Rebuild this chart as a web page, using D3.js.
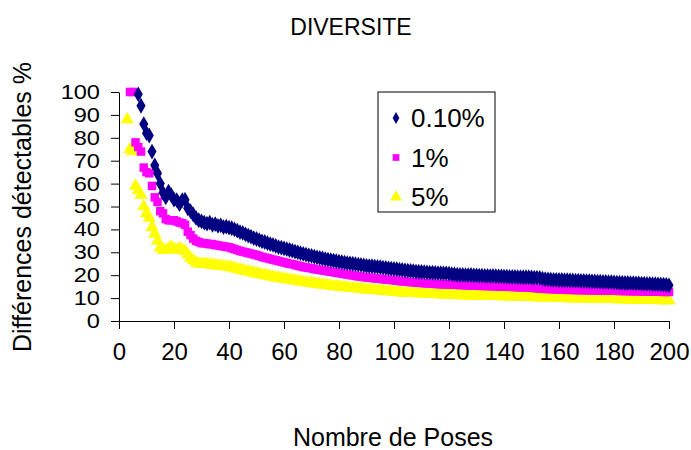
<!DOCTYPE html>
<html lang="fr">
<head>
<meta charset="UTF-8">
<title>DIVERSITE</title>
<script src="https://cdn.jsdelivr.net/npm/d3@7"></script>
<style>
    body { margin: 0; background: #fff; }
    text { font-family: "Liberation Sans", Arial, sans-serif; fill: #000; }
    .axis path, .axis line { stroke: #000; stroke-width: 1px; }
</style>
</head>
<body>
<svg width="691" height="450"></svg>
<script>
    // nombre de poses : 1..200 (index i -> x = i + 1), null = hors echelle (> 100)
    var serie010 = [
        null, null, null, null, null, null,
        99, 94, 86, 82, 81, 74, 68, 64.5, 60, 56,
        54, 56.5, 55, 53, 52.8, 51, 52.8, 53, 49.2, 48, 46.5, 45, 44, 43.5,
        43, 42.5, 43, 42, 42.3, 41.5, 41.8, 41, 41.2, 40.8,
        40.5, 40, 39.5, 38.8, 38.5, 37.8, 37.3, 36.8, 36.2, 35.8,
        35.3, 34.8, 34.5, 34, 33.6, 33.2, 32.8, 32.3, 32, 31.7,
        31.4, 31, 30.7, 30.3, 30, 29.6, 29.3, 29, 28.7, 28.4,
        28.1, 27.8, 27.6, 27.3, 27, 26.8, 26.6, 26.4, 26.1, 25.9,
        25.7, 25.5, 25.3, 25.2, 25, 24.8, 24.6, 24.5, 24.3, 24.1,
        24, 23.9, 23.7, 23.6, 23.5, 23.3, 23.2, 23, 22.9, 22.7,
        22.6, 22.4, 22.3, 22.1, 22, 21.9, 21.8, 21.6, 21.5, 21.4,
        21.3, 21.2, 21.1, 21.1, 21, 20.9, 20.9, 20.8, 20.8, 20.7,
        20.5, 20.3, 20.2, 20.1, 20.1, 20, 20, 20.1, 19.9, 19.9,
        19.8, 19.8, 19.7, 19.7, 19.6, 19.7, 19.6, 19.5, 19.5, 19.4,
        19.4, 19.3, 19.3, 19.3, 19.2, 19.2, 19.1, 19.1, 19.1, 19,
        18.9, 18.9, 18.8, 18.5, 18.3, 18.2, 18.1, 18, 18, 17.9,
        17.9, 17.8, 17.8, 17.7, 17.7, 17.6, 17.6, 17.5, 17.5, 17.4,
        17.4, 17.3, 17.3, 17.2, 17.2, 17.1, 17.1, 17, 17, 16.9,
        16.8, 16.7, 16.7, 16.6, 16.6, 16.5, 16.5, 16.4, 16.4, 16.3,
        16.3, 16.2, 16.2, 16.1, 16.1, 16, 16, 15.9, 15.8, 15.6
    ];
    var serie1 = [
        null, null, null,
        100, 100, 78, 76, 74, 67, 65, 64.5, 59, 54, 52, 48, 47,
        44.5, 44, 44, 44, 43.5, 43, 42.7, 42, 39, 37.5, 36, 35, 34.5, 34,
        34, 33.8, 33.5, 33.6, 33.2, 33, 32.8, 32.6, 32.4, 32.2,
        31.8, 31.4, 31, 30.6, 30.3, 30, 29.7, 29.4, 29.1, 28.8,
        28.4, 28, 27.7, 27.4, 27.1, 26.8, 26.5, 26.2, 25.9, 25.6,
        25.3, 25, 24.8, 24.5, 24.2, 23.9, 23.6, 23.4, 23.2, 23,
        22.7, 22.5, 22.3, 22.1, 21.9, 21.7, 21.5, 21.3, 21.1, 20.9,
        20.7, 20.5, 20.3, 20.1, 19.9, 19.7, 19.5, 19.4, 19.2, 19,
        18.9, 18.8, 18.6, 18.5, 18.4, 18.3, 18.1, 18, 17.9, 17.8,
        17.6, 17.5, 17.3, 17.2, 17.1, 17, 16.9, 16.8, 16.7, 16.6,
        16.5, 16.4, 16.4, 16.3, 16.2, 16.1, 16.1, 16, 16, 15.9,
        15.9, 15.8, 15.8, 15.7, 15.7, 15.6, 15.6, 15.5, 15.5, 15.4,
        15.4, 15.3, 15.3, 15.3, 15.2, 15.2, 15.1, 15.1, 15, 15,
        15, 14.9, 14.9, 14.8, 14.8, 14.7, 14.7, 14.6, 14.6, 14.5,
        14.4, 14.3, 14.2, 14.1, 14, 14, 13.9, 13.9, 13.8, 13.8,
        13.7, 13.7, 13.6, 13.6, 13.6, 13.5, 13.5, 13.5, 13.5, 13.4,
        13.4, 13.4, 13.4, 13.3, 13.3, 13.3, 13.3, 13.2, 13.2, 13.2,
        13.2, 13.1, 13.1, 13.1, 13.1, 13, 13, 13, 13, 12.9,
        12.9, 12.9, 12.9, 12.8, 12.8, 12.8, 12.8, 12.7, 12.7, 12.7
    ];
    var serie5 = [
        null, null,
        88, 75, 74, 59, 57, 55, 50, 47, 45, 41, 38, 35, 32, 31,
        31, 31.5, 32.4, 31.5, 31, 31.7, 31, 30.5, 29, 27.5, 26.5, 25.5, 25, 25,
        24.8, 24.9, 24.6, 24.5, 24.3, 24.2, 24, 23.9, 23.7, 23.6,
        23.3, 23, 22.7, 22.4, 22.1, 21.8, 21.6, 21.3, 21, 20.8,
        20.5, 20.2, 20, 19.7, 19.5, 19.2, 19, 18.8, 18.6, 18.4,
        18.2, 18, 17.8, 17.6, 17.4, 17.2, 17, 16.8, 16.6, 16.5,
        16.3, 16.1, 16, 15.8, 15.7, 15.5, 15.4, 15.2, 15.1, 15,
        14.8, 14.7, 14.6, 14.4, 14.3, 14.2, 14.1, 14, 13.8, 13.7,
        13.6, 13.5, 13.4, 13.3, 13.2, 13.1, 13, 12.9, 12.8, 12.7,
        12.6, 12.5, 12.4, 12.3, 12.3, 12.2, 12.1, 12.1, 12, 11.9,
        11.9, 11.8, 11.8, 11.7, 11.7, 11.6, 11.6, 11.5, 11.5, 11.4,
        11.4, 11.3, 11.3, 11.2, 11.2, 11.2, 11.1, 11.1, 11.1, 11,
        11, 11, 10.9, 10.9, 10.9, 10.8, 10.8, 10.8, 10.7, 10.7,
        10.7, 10.6, 10.6, 10.6, 10.5, 10.5, 10.5, 10.4, 10.4, 10.4,
        10.3, 10.3, 10.3, 10.2, 10.2, 10.2, 10.1, 10.1, 10.1, 10,
        10, 10, 9.9, 9.9, 9.9, 9.8, 9.8, 9.8, 9.7, 9.7,
        9.7, 9.7, 9.6, 9.6, 9.6, 9.6, 9.5, 9.5, 9.5, 9.5,
        9.4, 9.4, 9.4, 9.4, 9.3, 9.3, 9.3, 9.3, 9.2, 9.2,
        9.2, 9.2, 9.1, 9.1, 9.1, 9.1, 9, 9, 9, 9
    ];
    var seriesNames = ["0.10%", "1%", "5%"];
    var seriesColors = ["#000080", "#ff00ff", "#ffff00"];
    var xTicks = [0, 20, 40, 60, 80, 100, 120, 140, 160, 180, 200];
    var yTicks = [0, 10, 20, 30, 40, 50, 60, 70, 80, 90, 100];

    var svg = d3.select("svg");

    var x = d3.scaleLinear().domain([0, 200]).range([119, 669]);
    var y = d3.scaleLinear().domain([0, 100]).range([321, 92]);

    // axes
    var xAxis = svg.append("g")
        .attr("class", "axis")
        .attr("transform", "translate(0,321)")
        .call(d3.axisBottom(x).tickValues(xTicks).tickSize(8).tickPadding(14).tickSizeOuter(0));
    xAxis.selectAll("text").style("font-size", "24px").attr("font-family", null);

    var yAxis = svg.append("g")
        .attr("class", "axis")
        .attr("transform", "translate(119,0)")
        .call(d3.axisLeft(y).tickValues(yTicks).tickSize(8).tickPadding(11).tickSizeOuter(0));
    // libelles un peu elargis, sans grandir leur hauteur (graduations serrees)
    yAxis.selectAll(".tick text")
        .style("font-size", "20px")
        .attr("font-family", null)
        .attr("transform", "scale(1.18,1)")
        .attr("x", -19 / 1.18);

    // symboles
    var shapes = [d3.symbolDiamond, d3.symbolSquare, d3.symbolTriangle];
    var sizes = [72, 72, 75];
    var allSeries = [serie010, serie1, serie5];

    // ordre de dessin : 5% en dessous, 0.10% au-dessus
    [2, 1, 0].forEach(function(s) {
        var pts = allSeries[s].map(function(v, i) { return { x: i + 1, v: v }; })
            .filter(function(d) { return d.v !== null; });
        svg.append("g").selectAll("path")
            .data(pts)
            .enter()
            .append("path")
            .attr("d", d3.symbol().type(shapes[s]).size(sizes[s]))
            .attr("transform", function(d) {
                return "translate(" + x(d.x) + "," + y(d.v) + ")";
            })
            .attr("fill", seriesColors[s]);
    });

    // titres
    svg.append("text")
        .attr("x", 351).attr("y", 35)
        .attr("text-anchor", "middle")
        .style("font-size", "23px")
        .text("DIVERSITE");

    svg.append("text")
        .attr("transform", "translate(31,207) rotate(-90)")
        .attr("text-anchor", "middle")
        .style("font-size", "25px")
        .text("Différences détectables %");

    svg.append("text")
        .attr("x", 393).attr("y", 446)
        .attr("text-anchor", "middle")
        .style("font-size", "25px")
        .text("Nombre de Poses");

    // legende
    var legend = svg.append("g");
    legend.append("rect")
        .attr("x", 378).attr("y", 92)
        .attr("width", 117).attr("height", 120)
        .attr("fill", "#fff").attr("stroke", "#000");

    var legendSizes = [40, 45, 60];
    seriesNames.forEach(function(name, i) {
        var cy = 118 + i * 39.5;
        legend.append("path")
            .attr("d", d3.symbol().type(shapes[i]).size(legendSizes[i]))
            .attr("transform", "translate(396," + cy + ")")
            .attr("fill", seriesColors[i]);
        legend.append("text")
            .attr("x", 411).attr("y", cy + 9)
            .style("font-size", "26px")
            .text(name);
    });
</script>
</body>
</html>
